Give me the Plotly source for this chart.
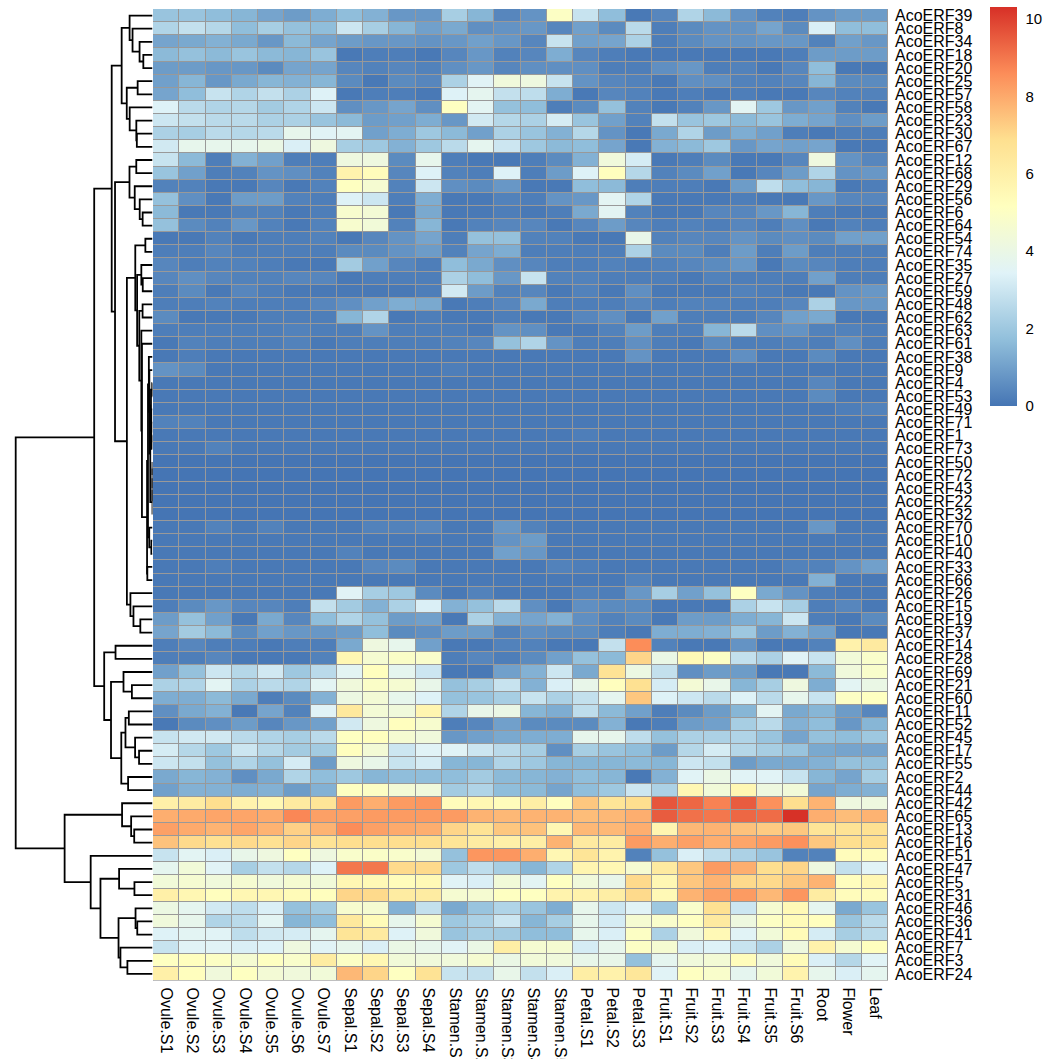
import numpy as np
import plotly.graph_objects as go

genes = ["AcoERF39","AcoERF8","AcoERF34","AcoERF18","AcoERF20","AcoERF25","AcoERF57","AcoERF58",
         "AcoERF23","AcoERF30","AcoERF67","AcoERF12","AcoERF68","AcoERF29","AcoERF56","AcoERF6",
         "AcoERF64","AcoERF54","AcoERF74","AcoERF35","AcoERF27","AcoERF59","AcoERF48","AcoERF62",
         "AcoERF63","AcoERF61","AcoERF38","AcoERF9","AcoERF4","AcoERF53","AcoERF49","AcoERF71",
         "AcoERF1","AcoERF73","AcoERF50","AcoERF72","AcoERF43","AcoERF22","AcoERF32","AcoERF70",
         "AcoERF10","AcoERF40","AcoERF33","AcoERF66","AcoERF26","AcoERF15","AcoERF19","AcoERF37",
         "AcoERF14","AcoERF28","AcoERF69","AcoERF21","AcoERF60","AcoERF11","AcoERF52","AcoERF45",
         "AcoERF17","AcoERF55","AcoERF2","AcoERF44","AcoERF42","AcoERF65","AcoERF13","AcoERF16",
         "AcoERF51","AcoERF47","AcoERF5","AcoERF31","AcoERF46","AcoERF36","AcoERF41","AcoERF7",
         "AcoERF3","AcoERF24"]

samples = ["Ovule.S1","Ovule.S2","Ovule.S3","Ovule.S4","Ovule.S5","Ovule.S6","Ovule.S7",
           "Sepal.S1","Sepal.S2","Sepal.S3","Sepal.S4",
           "Stamen.S1","Stamen.S2","Stamen.S3","Stamen.S4","Stamen.S5",
           "Petal.S1","Petal.S2","Petal.S3",
           "Fruit.S1","Fruit.S2","Fruit.S3","Fruit.S4","Fruit.S5","Fruit.S6",
           "Root","Flower","Leaf"]

ovule = [
[1.9,1.9,1.7,1.5,1.1,0.9,1.3],[2.4,2.8,2.5,1.7,2.2,1.8,1.7],[1.1,1.2,1.4,1.2,0.8,1.6,1.1],
[1.6,1.8,1.6,1.9,1.6,1.5,1.9],[0.9,0.9,0.8,0.8,0.5,1.1,1.1],[1.0,1.5,0.8,1.2,1.5,1.4,1.5],
[1.1,1.7,2.9,2.4,2.8,2.3,3.4],[3.4,2.6,2.4,2.5,2.1,2.4,3.0],[3.0,2.8,2.6,2.6,2.3,2.3,1.9],
[2.3,2.2,2.6,2.5,2.6,3.8,3.5],[3.1,3.8,3.8,3.8,4.0,3.3,4.2],[2.9,1.6,0.2,1.4,1.0,0.2,0.2],
[1.9,1.0,0.2,0.3,0.7,0.6,0.3],[0.3,0.3,0.1,0.1,0.4,0.1,0.3],[1.8,0.6,0.1,0.9,0.9,0.3,0.2],
[1.6,0.1,0.1,0.3,0.3,0.1,0.2],[1.8,0.5,0.3,0.8,0.3,0.1,0.3],[0.1,0.1,0.3,0.1,0.2,0.2,0.3],
[0.2,0.2,0.4,0.2,0.2,0.2,0.2],[0.4,0.2,0.3,0.3,0.2,0.1,0.1],[0.4,0.6,0.4,0.3,0.3,0.4,0.4],
[0.2,0.5,0.1,0.4,0.2,0.1,0.1],[0.2,0.2,0.3,0.2,0.2,0.2,0.4],[0.5,0.1,0.1,0.1,0.2,0.2,0.2],
[0.2,0.2,0.2,0.2,0.2,0.3,0.2],[0.1,0.3,0.2,0.2,0.2,0.3,0.1],[0.1,0.2,0.1,0.1,0.1,0.1,0.1],
[0.7,0.5,0.1,0.1,0.1,0.1,0.1],[0.1,0.1,0.1,0.1,0.1,0.1,0.1],[0.1,0.1,0.1,0.1,0.1,0.1,0.1],
[0.1,0.1,0.1,0.1,0.1,0.1,0.1],[0.3,0.3,0.1,0.1,0.1,0.1,0.1],[0.1,0.1,0.1,0.1,0.1,0.1,0.1],
[0.1,0.1,0.3,0.1,0.1,0.1,0.1],[0.0,0.0,0.0,0.0,0.0,0.0,0.0],[0.0,0.0,0.0,0.0,0.0,0.0,0.0],
[0.0,0.0,0.0,0.0,0.0,0.0,0.0],[0.0,0.0,0.0,0.0,0.0,0.0,0.0],[0.0,0.0,0.0,0.0,0.0,0.0,0.0],
[0.1,0.1,0.3,0.1,0.3,0.1,0.1],[0.1,0.1,0.1,0.1,0.1,0.1,0.1],[0.1,0.1,0.1,0.1,0.1,0.1,0.1],
[0.1,0.1,0.2,0.1,0.1,0.1,0.1],[0.1,0.1,0.1,0.1,0.1,0.1,0.1],[0.1,0.1,0.1,0.1,0.1,0.1,0.1],
[0.2,0.5,0.8,0.4,0.4,0.2,2.8],[0.9,1.8,1.0,0.1,1.2,0.4,1.7],[1.1,2.1,1.6,0.5,1.0,0.8,0.8],
[0.2,0.4,0.2,0.2,0.1,0.2,0.2],[0.2,0.2,0.4,0.1,0.1,0.1,0.3],[1.0,1.8,3.0,2.5,3.1,2.0,2.6],
[2.3,2.4,3.6,2.3,2.6,2.4,3.6],[1.3,1.3,1.6,1.2,0.2,0.5,1.4],[0.6,1.2,1.4,0.1,1.1,0.3,3.5],
[0.1,0.5,0.6,0.9,0.4,0.8,1.0],[2.9,3.1,3.1,2.6,2.4,2.2,2.6],[3.2,2.5,2.0,3.0,2.5,2.1,2.1],
[3.0,2.8,1.8,2.4,1.8,3.2,0.9],[1.2,1.5,1.4,0.6,1.2,2.4,1.7],[1.0,1.4,1.4,1.3,1.4,0.9,1.4],
[6.0,6.2,6.9,5.8,5.6,6.3,6.6],[7.9,8.0,8.1,8.1,8.0,8.7,8.2],[8.2,8.0,7.8,8.1,7.8,7.2,7.8],
[7.5,7.0,6.8,7.0,6.8,7.1,6.7],[2.9,3.6,3.3,3.9,4.2,5.1,4.2],[3.7,4.4,3.5,2.2,2.8,2.5,3.4],
[4.4,4.6,4.3,4.6,4.3,4.6,4.4],[6.0,5.6,5.2,5.6,5.6,5.4,5.2],[4.1,3.7,3.1,2.7,3.3,1.8,2.1],
[4.3,3.8,2.4,2.6,3.6,1.5,1.7],[3.4,3.6,3.5,2.7,3.1,3.2,3.7],[2.9,3.5,3.5,3.3,3.4,4.2,3.5],
[5.1,5.2,5.0,4.6,5.1,4.8,6.2],[6.0,5.2,4.3,5.1,4.5,4.3,4.4]]

sepal = [
[1.7,1.4,0.8,0.8],[3.0,2.2,1.5,1.0],[0.9,0.8,0.8,0.7],[0.1,0.2,0.2,0.1],[0.4,0.3,0.4,0.3],
[0.5,0.1,0.5,0.4],[0.1,0.2,0.2,0.1],[0.6,0.8,1.1,0.6],[1.6,0.9,1.0,1.3],[3.6,1.0,1.3,2.0],
[2.2,2.0,1.4,2.0],[4.2,4.2,0.5,3.8],[5.8,5.3,0.4,3.4],[5.1,4.6,0.3,3.0],[3.4,3.0,0.2,1.3],
[4.7,4.5,0.1,1.2],[4.7,4.4,0.3,1.5],[0.1,0.4,0.7,1.1],[0.5,0.5,0.7,0.9],[2.1,1.0,0.4,0.2],
[0.1,0.2,0.2,0.2],[0.1,0.1,0.1,0.2],[0.6,1.0,1.3,1.2],[1.5,2.4,0.1,0.2],[0.2,0.7,0.2,0.2],
[0.2,0.2,0.2,0.2],[0.1,0.1,0.1,0.1],[0.1,0.1,0.1,0.1],[0.1,0.1,0.1,0.1],[0.1,0.1,0.1,0.1],
[0.1,0.1,0.1,0.1],[0.1,0.1,0.1,0.1],[0.1,0.1,0.1,0.1],[0.1,0.1,0.1,0.1],[0.0,0.0,0.0,0.0],
[0.0,0.0,0.0,0.0],[0.0,0.0,0.0,0.0],[0.0,0.0,0.0,0.0],[0.0,0.0,0.0,0.0],[0.1,0.3,0.3,0.4],
[0.1,0.1,0.1,0.1],[0.3,0.1,0.1,0.1],[0.1,0.4,0.5,0.1],[0.1,0.1,0.1,0.1],[3.5,2.2,2.0,0.5],
[2.1,1.4,2.3,3.3],[2.4,1.8,0.9,1.0],[0.9,1.7,0.5,0.6],[1.2,4.2,3.8,1.0],[5.6,4.6,4.9,4.8],
[3.6,5.2,3.7,3.0],[4.3,4.9,4.6,3.9],[4.1,4.5,3.8,3.4],[6.4,4.5,4.3,5.7],[3.1,4.2,5.2,4.7],
[5.1,5.2,4.6,4.3],[5.2,4.5,3.0,3.5],[4.2,3.9,2.9,3.2],[2.0,1.5,1.7,1.7],[5.1,5.0,4.5,4.3],
[8.3,7.9,8.3,8.4],[8.2,8.3,8.3,8.3],[8.6,8.2,8.0,7.9],[6.9,6.9,6.9,6.9],[4.8,4.9,4.8,4.5],
[9.0,9.0,7.0,7.0],[5.6,5.5,5.3,5.5],[7.1,7.0,6.2,6.2],[4.7,4.6,1.4,2.8],[6.4,5.4,3.8,4.6],
[6.6,6.3,3.4,4.3],[3.8,3.3,4.0,3.8],[5.0,5.6,4.4,4.3],[7.7,7.1,5.1,6.7]]

stamen = [
[2.2,1.5,0.4,0.7,5.0],[1.2,0.6,0.7,0.8,0.4],[0.8,1.0,0.8,0.4,2.9],[0.4,0.8,0.3,0.4,1.3],
[0.6,0.8,0.4,0.6,0.6],[2.3,3.5,4.3,4.2,2.9],[3.4,3.7,2.8,2.7,1.3],[5.1,3.6,1.8,1.7,0.2],
[0.8,3.1,2.5,2.3,3.2],[1.6,1.0,2.3,1.9,1.4],[2.6,3.7,3.0,2.0,1.6],[0.2,0.1,0.1,0.2,0.5],
[0.3,0.2,3.4,0.2,0.9],[0.6,0.5,0.8,0.1,0.1],[0.1,0.1,0.3,0.2,0.7],[0.1,0.1,0.2,0.1,0.2],
[0.1,0.3,0.4,0.4,0.1],[0.2,1.8,1.8,0.3,0.3],[0.3,1.1,1.3,0.2,0.2],[1.7,1.2,0.6,0.4,0.2],
[2.3,1.7,0.8,2.9,0.3],[3.1,0.9,0.3,0.4,0.1],[0.1,0.2,0.4,1.2,0.2],[0.1,0.1,0.2,0.1,0.1],
[0.2,0.1,0.7,0.6,0.1],[0.3,0.4,1.8,2.4,0.7],[0.1,0.1,0.1,0.1,0.1],[0.2,0.1,0.1,0.1,0.1],
[0.1,0.1,0.1,0.1,0.1],[0.1,0.1,0.1,0.1,0.1],[0.1,0.1,0.1,0.1,0.1],[0.1,0.1,0.1,0.1,0.1],
[0.1,0.1,0.1,0.1,0.1],[0.1,0.1,0.1,0.1,0.1],[0.0,0.0,0.0,0.0,0.0],[0.0,0.0,0.0,0.0,0.0],
[0.0,0.0,0.0,0.0,0.0],[0.0,0.0,0.0,0.0,0.0],[0.0,0.0,0.0,0.0,0.0],[0.1,0.1,0.8,0.3,0.1],
[0.1,0.1,0.7,0.9,0.1],[0.1,0.1,1.0,0.8,0.1],[0.1,0.1,0.1,0.1,0.3],[0.1,0.1,0.1,0.1,0.1],
[0.1,0.3,0.1,0.1,0.1],[1.4,1.8,2.6,0.6,0.1],[0.1,2.3,1.4,1.1,1.4],[0.9,0.9,0.3,0.6,0.5],
[0.1,0.1,0.3,0.3,0.1],[0.2,0.4,0.2,0.5,1.0],[0.1,0.1,1.0,1.4,3.0],[1.8,2.2,2.9,1.4,3.3],
[1.8,1.9,2.2,2.9,2.3],[2.4,3.9,4.0,1.5,1.3],[0.2,0.4,1.0,0.5,0.5],[0.8,1.0,1.2,1.3,1.3],
[3.5,3.0,2.6,2.2,0.6],[1.5,1.5,2.4,2.0,1.5],[1.7,2.1,1.6,1.5,1.4],[2.1,2.4,1.7,1.6,1.1],
[5.3,5.6,5.3,6.1,5.2],[8.3,7.8,7.7,7.8,7.8],[7.1,6.7,7.4,7.5,5.6],[6.6,6.2,6.0,6.1,7.8],
[1.8,8.4,8.4,7.9,5.6],[2.0,2.7,2.2,1.5,2.4],[3.5,3.3,4.4,3.6,5.1],[4.6,4.6,5.1,5.1,5.8],
[1.2,1.9,2.4,1.9,1.3],[2.0,2.3,3.0,1.5,2.2],[1.9,2.2,2.1,1.7,1.7],[3.5,4.0,6.1,4.6,4.6],
[4.3,4.6,4.0,4.4,4.3],[2.9,2.8,3.9,2.8,3.3]]

petal = [
[2.9,1.7,0.1],[1.0,0.5,2.6],[1.0,1.1,2.3],[0.4,0.2,0.1],[0.6,0.2,0.2],[0.7,0.4,0.3],
[0.1,0.4,0.3],[0.5,1.8,0.3],[1.9,1.0,0.3],[2.5,0.7,0.1],[1.7,1.1,0.1],[1.4,4.3,3.2],
[3.4,5.2,2.5],[1.7,1.6,0.2],[0.8,3.6,2.4],[1.2,3.6,0.3],[0.4,0.9,0.4],[0.1,0.1,3.9],
[0.2,0.2,2.3],[0.2,0.3,0.2],[0.3,0.2,0.2],[0.3,0.1,0.6],[0.2,0.2,0.4],[0.4,0.6,0.1],
[0.1,0.3,0.9],[0.2,0.2,0.6],[0.1,0.1,0.7],[0.1,0.1,0.1],[0.1,0.1,0.1],[0.1,0.1,0.1],
[0.1,0.1,0.1],[0.1,0.1,0.1],[0.2,0.1,0.1],[0.1,0.1,0.1],[0.0,0.0,0.0],[0.0,0.0,0.0],
[0.0,0.0,0.0],[0.0,0.0,0.0],[0.0,0.0,0.0],[0.1,0.1,0.1],[0.1,0.1,0.1],[0.1,0.1,0.1],
[0.2,0.1,0.1],[0.1,0.1,0.3],[0.3,0.2,0.8],[0.6,0.5,0.5],[0.6,0.3,0.5],[0.5,0.2,0.1],
[0.1,2.8,8.6],[1.8,1.6,7.1],[1.2,6.7,4.1],[3.9,5.2,6.8],[2.8,3.7,7.4],[2.7,1.6,1.0],
[0.5,1.4,0.1],[3.8,3.8,2.7],[2.2,1.9,1.7],[1.5,1.5,1.6],[1.7,1.5,0.1],[1.7,2.0,3.0],
[7.4,6.6,6.9],[7.6,7.7,7.9],[7.7,7.7,7.9],[6.3,6.2,8.3],[6.6,5.8,0.3],[5.7,5.6,4.6],
[4.3,3.9,7.0],[5.9,6.1,7.0],[3.8,3.0,3.5],[3.8,3.2,4.6],[3.8,3.3,5.0],[3.2,3.8,5.0],
[3.9,3.9,1.8],[6.1,5.9,6.5]]

fruit = [
[0.4,2.4,1.6,0.7,0.3,0.2],[0.2,0.5,0.7,0.7,1.1,0.5],[0.2,0.5,0.7,0.7,0.8,0.8],
[0.1,0.1,0.1,0.1,0.1,0.2],[0.6,0.8,0.2,0.3,0.1,0.4],[0.1,0.6,0.6,0.3,0.3,0.4],
[0.1,0.2,0.1,0.2,0.1,0.1],[0.1,0.3,0.8,3.6,2.0,0.8],[2.8,1.9,2.0,1.6,1.9,1.3],
[1.2,2.4,0.9,1.3,1.0,0.2],[1.4,1.6,2.0,0.8,1.1,1.0],[0.1,0.2,0.5,0.1,0.1,0.4],
[0.3,0.5,1.0,0.1,0.4,0.9],[0.2,0.2,0.1,0.9,2.7,1.7],[0.1,0.1,0.1,0.2,0.1,0.1],
[0.1,0.1,0.4,0.4,0.8,1.5],[0.2,0.3,0.2,0.4,0.2,0.6],[0.3,0.4,0.4,0.7,0.5,0.6],
[0.5,0.5,0.2,0.9,0.2,0.9],[0.3,0.4,0.5,0.8,0.1,0.5],[0.2,0.1,0.3,0.2,0.2,0.2],
[0.1,0.1,0.1,0.3,0.2,0.1],[0.2,0.3,0.3,0.2,0.2,0.4],[1.0,0.2,0.2,0.2,0.4,1.0],
[0.2,0.2,1.5,2.6,0.6,0.7],[0.2,0.1,0.5,0.2,0.2,0.3],[0.1,0.1,0.1,0.6,0.1,0.1],
[0.1,0.1,0.1,0.1,0.1,0.1],[0.1,0.1,0.1,0.1,0.1,0.1],[0.1,0.1,0.1,0.1,0.1,0.1],
[0.1,0.1,0.1,0.1,0.1,0.1],[0.1,0.1,0.1,0.1,0.1,0.1],[0.1,0.1,0.1,0.1,0.1,0.1],
[0.1,0.1,0.1,0.1,0.1,0.1],[0.0,0.0,0.0,0.0,0.0,0.0],[0.0,0.0,0.0,0.0,0.0,0.0],
[0.0,0.0,0.0,0.0,0.0,0.0],[0.0,0.0,0.0,0.0,0.0,0.0],[0.0,0.0,0.0,0.0,0.0,0.0],
[0.1,0.1,0.1,0.1,0.1,0.1],[0.1,0.1,0.1,0.1,0.1,0.1],[0.1,0.1,0.1,0.1,0.1,0.1],
[0.1,0.1,0.1,0.1,0.1,0.3],[0.1,0.1,0.1,0.1,0.1,0.1],[2.2,1.0,1.8,5.1,1.2,0.7],
[0.1,0.1,0.1,2.3,2.9,2.2],[0.1,0.9,0.9,1.3,1.5,3.0],[1.3,1.3,1.4,2.0,0.9,1.4],
[0.3,0.1,0.1,0.7,0.1,0.1],[4.0,5.5,5.0,2.8,2.3,3.5],[2.8,0.6,0.9,0.9,0.1,0.1],
[3.2,4.5,3.9,1.5,2.2,4.2],[3.4,3.0,2.6,3.4,2.6,3.8],[0.2,0.5,0.9,1.5,3.6,1.2],
[0.2,0.9,1.0,2.2,2.6,1.4],[1.8,2.3,2.3,2.4,1.9,1.1],[0.9,2.5,3.2,2.5,2.2,1.9],
[1.5,3.0,2.8,0.9,1.2,1.2],[1.4,3.5,4.0,3.5,3.5,2.9],[2.3,5.6,4.4,5.6,4.2,4.4],
[9.6,9.3,8.8,9.5,8.5,6.9],[9.5,9.1,9.0,9.3,9.2,10.3],[5.7,7.7,7.8,7.5,7.3,7.4],
[7.9,8.2,7.9,8.1,8.3,8.5],[1.8,3.3,2.7,2.3,1.9,0.3],[6.3,7.4,8.3,7.9,6.9,7.1],
[5.6,7.4,7.8,7.0,7.0,7.4],[5.5,7.8,8.2,8.3,7.7,8.4],[2.0,4.8,6.8,3.0,4.6,5.5],
[4.8,5.1,6.3,4.2,5.0,5.4],[2.3,4.3,5.5,3.5,4.4,5.4],[4.6,3.3,3.4,2.9,2.3,4.2],
[3.7,4.3,4.5,5.3,4.3,5.4],[3.5,5.1,4.8,3.7,4.4,5.8]]

root = [0.7,3.3,0.3,0.9,1.7,1.5,0.4,1.0,1.1,0.1,1.1,4.2,2.4,1.5,0.8,0.2,0.1,0.5,0.2,0.4,
        1.0,0.1,2.3,1.2,0.3,0.2,0.5,0.1,0.4,0.5,0.1,0.1,0.1,0.1,0.0,0.0,0.0,0.0,0.0,0.8,
        0.1,0.1,0.3,1.4,0.2,0.2,0.2,1.0,0.3,2.9,1.6,1.3,2.9,1.5,1.7,1.8,1.2,1.4,1.5,1.1,
        7.8,7.9,6.6,7.4,0.3,4.2,7.8,6.2,3.7,5.2,3.2,5.9,3.3,3.8]

flower = [0.9,1.7,1.0,0.9,0.1,0.5,0.3,0.3,0.6,0.2,0.1,0.7,0.7,0.1,0.4,0.1,0.3,1.0,0.2,0.2,
          0.2,0.7,0.8,0.1,0.3,0.6,0.1,0.1,0.1,0.1,0.2,0.1,0.1,0.1,0.0,0.0,0.0,0.0,0.0,0.1,
          0.1,0.1,0.7,0.1,0.1,0.4,0.1,0.1,5.9,4.4,4.3,3.6,5.0,0.9,0.8,1.7,1.1,1.8,1.1,1.3,
          4.2,7.6,6.7,6.9,5.3,2.8,5.2,5.3,1.2,1.9,2.2,4.6,2.5,3.3]

leaf = [0.9,1.7,0.8,0.9,0.1,0.5,0.3,0.1,0.9,0.2,0.1,0.4,0.8,0.2,0.4,0.1,0.2,1.0,0.2,0.2,
        0.2,0.8,0.8,0.1,0.2,0.2,0.1,0.1,0.1,0.1,0.3,0.1,0.1,0.1,0.0,0.0,0.0,0.0,0.0,0.1,
        0.1,0.1,1.0,0.1,0.1,0.1,0.5,0.1,6.3,4.8,4.8,4.0,5.1,0.4,1.5,2.0,1.1,1.8,2.2,1.4,
        4.2,7.8,6.8,6.9,5.3,3.5,5.6,5.3,1.9,2.6,2.6,5.2,3.5,3.7]

# ---------------------------------------------------------------------------
M = np.hstack([np.array(ovule), np.array(sepal), np.array(stamen), np.array(petal),
               np.array(fruit), np.array(root)[:, None], np.array(flower)[:, None],
               np.array(leaf)[:, None]])
n_rows, n_cols = M.shape

# Row dendrogram: complete linkage (euclidean) respecting the displayed row order
D = np.sqrt(((M[:, None, :] - M[None, :, :]) ** 2).sum(-1))
clusters = [dict(members=[i], pos=float(i), h=0.0) for i in range(n_rows)]
dx, dy = [], []
while len(clusters) > 1:
    best_k, best_d = 0, np.inf
    for k in range(len(clusters) - 1):
        d = D[np.ix_(clusters[k]["members"], clusters[k + 1]["members"])].max()
        if d < best_d:
            best_d, best_k = d, k
    A, B = clusters[best_k], clusters[best_k + 1]
    dx += [A["h"], best_d, best_d, B["h"], None]
    dy += [A["pos"], A["pos"], B["pos"], B["pos"], None]
    clusters[best_k:best_k + 2] = [dict(members=A["members"] + B["members"],
                                        pos=(A["pos"] + B["pos"]) / 2, h=best_d)]
h_max = clusters[0]["h"]

W = H = 1059
hm_x0, hm_x1 = 153 / W, 888 / W
hm_y0, hm_y1 = 1 - 980.5 / H, 1 - 9 / H
dend_x0, dend_x1 = 10 / W, 152.5 / W
root_px, leaf_px, left_px = 15.7, 152.5, 10

colorscale = [[0.0, "#4575B4"], [1/6, "#91BFDB"], [2/6, "#E0F3F8"], [3/6, "#FFFFBF"],
              [4/6, "#FEE090"], [5/6, "#FC8D59"], [1.0, "#D73027"]]
FONT = "Liberation Sans, Arial, sans-serif"

fig = go.Figure()
fig.add_trace(go.Heatmap(
    z=M, x=list(range(n_cols)), y=list(range(n_rows)),
    colorscale=colorscale, zmin=0, zmax=10.31, xgap=1, ygap=1,
    xaxis="x", yaxis="y",
    colorbar=dict(x=990 / W, xanchor="left", y=1 - 7 / H, yanchor="top",
                  len=399, lenmode="pixels", thickness=27, thicknessmode="pixels",
                  xpad=0, ypad=0, outlinewidth=0, tickvals=[0, 2, 4, 6, 8, 10],
                  ticks="outside", ticklen=6, tickcolor="rgba(0,0,0,0)",
                  tickfont=dict(family=FONT, size=15, color="#000000")),
))
fig.add_trace(go.Scatter(x=dx, y=dy, mode="lines", xaxis="x2", yaxis="y2",
                         line=dict(color="#000000", width=1.8), hoverinfo="skip",
                         showlegend=False))

fig.add_shape(type="rect", xref="x", yref="y", x0=-0.5, x1=n_cols - 0.5,
              y0=-0.5, y1=n_rows - 0.5, fillcolor="#999999",
              line=dict(color="#999999", width=1), layer="below")

fig.update_layout(
    template="none",
    width=W, height=H, autosize=False, margin=dict(l=0, r=0, t=0, b=0, pad=0),
    paper_bgcolor="white", plot_bgcolor="white", showlegend=False,
    xaxis=dict(domain=[hm_x0, hm_x1], range=[-0.5, n_cols - 0.5], anchor="y",
               automargin=False,
               tickmode="array", tickvals=list(range(n_cols)), ticktext=samples,
               tickangle=90, ticks="", showgrid=False, zeroline=False, showline=False,
               ticklabelstandoff=6, tickfont=dict(family=FONT, size=16, color="#000000")),
    yaxis=dict(domain=[hm_y0, hm_y1], range=[n_rows - 0.5, -0.5], anchor="x", side="right",
               automargin=False,
               tickmode="array", tickvals=list(range(n_rows)), ticktext=genes,
               ticks="", showgrid=False, zeroline=False, showline=False,
               ticklabelstandoff=6, tickfont=dict(family=FONT, size=16, color="#000000")),
    xaxis2=dict(domain=[dend_x0, dend_x1],
                range=[h_max * (leaf_px - left_px) / (leaf_px - root_px), 0],
                anchor="y2", visible=False, showgrid=False, zeroline=False, automargin=False),
    yaxis2=dict(domain=[hm_y0, hm_y1], range=[n_rows - 0.5, -0.5], anchor="x2",
                visible=False, showgrid=False, zeroline=False, automargin=False),
)

fig.write_html("out.html", config={"displayModeBar": False},
               post_script="document.body.style.margin='0px';document.body.style.overflow='hidden';")
